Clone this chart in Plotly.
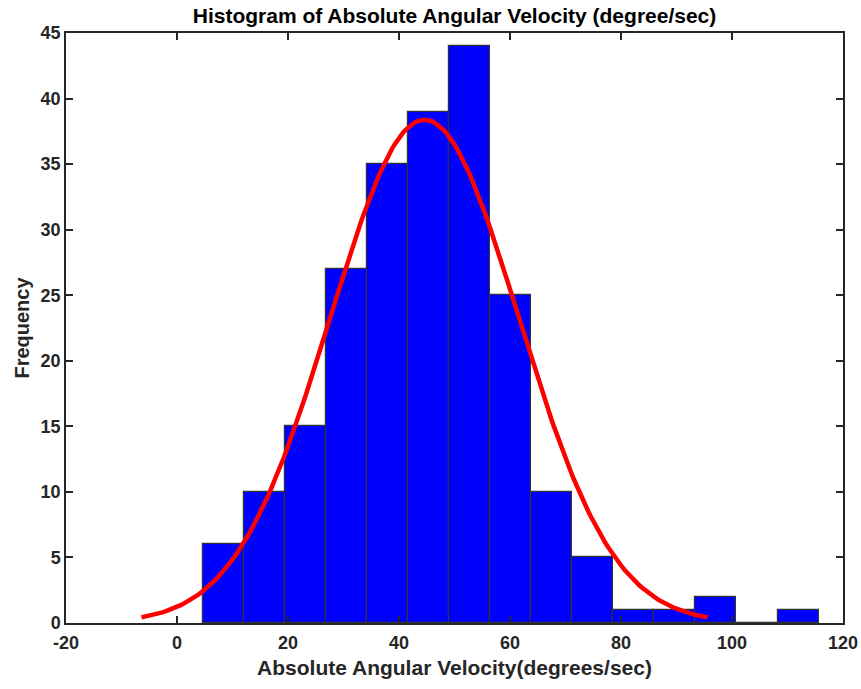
import numpy as np
import plotly.graph_objects as go

# Histogram data
bin_start = 4.6
bin_width = 7.4
counts = [6, 10, 15, 27, 35, 39, 44, 25, 10, 5, 1, 1, 2, 0, 1]

# Normal fit parameters (histfit style)
fit_mean = 44.6
fit_sigma = 17.0

x_ticks = [-20, 0, 20, 40, 60, 80, 100, 120]
x_tick_text = ["-20", "0", "20", "40", "60", "80", "100", "120"]
y_ticks = [0, 5, 10, 15, 20, 25, 30, 35, 40, 45]

centers = [bin_start + bin_width * (i + 0.5) for i in range(len(counts))]
n_total = sum(counts)

xc = np.linspace(fit_mean - 3 * fit_sigma, fit_mean + 3 * fit_sigma, 200)
yc = n_total * bin_width * np.exp(-0.5 * ((xc - fit_mean) / fit_sigma) ** 2) / (fit_sigma * np.sqrt(2 * np.pi))

fig = go.Figure()
fig.add_trace(go.Bar(
    x=centers, y=counts, width=bin_width,
    marker=dict(color="#0000FF", line=dict(color="#333333", width=1.2)),
    showlegend=False,
))
fig.add_trace(go.Scatter(
    x=xc, y=yc, mode="lines",
    line=dict(color="#FF0000", width=4.5),
    showlegend=False,
))

font_family = "Liberation Sans, Arial, sans-serif"
axis_common = dict(
    showgrid=False, zeroline=False, showline=True, mirror="ticks",
    linecolor="#262626", linewidth=1.5, automargin=False,
    ticks="inside", ticklen=7, tickwidth=1.5, tickcolor="#262626",
    tickfont=dict(family=font_family, size=18, color="#262626", weight="bold"),
)

fig.update_layout(
    width=861, height=689,
    margin=dict(l=66, r=18, t=33, b=66),
    paper_bgcolor="white", plot_bgcolor="white",
    bargap=0,
    title=dict(
        text="<b>Histogram of Absolute Angular Velocity (degree/sec)</b>",
        font=dict(family=font_family, size=21, color="black"),
        x=0.5, xanchor="center", xref="paper", y=0.977, yanchor="middle",
    ),
    xaxis=dict(
        range=[-20, 120], tickvals=x_ticks, ticktext=x_tick_text,
        ticklabelstandoff=3,
        title=dict(text="<b>Absolute Angular Velocity(degrees/sec)</b>",
                   font=dict(family=font_family, size=21, color="#262626"), standoff=8),
        **axis_common,
    ),
    yaxis=dict(
        range=[0, 45], tickvals=y_ticks,
        title=dict(text="<b>Frequency</b>",
                   font=dict(family=font_family, size=20, color="#262626"), standoff=6),
        **axis_common,
    ),
)

fig.write_html("out.html")
